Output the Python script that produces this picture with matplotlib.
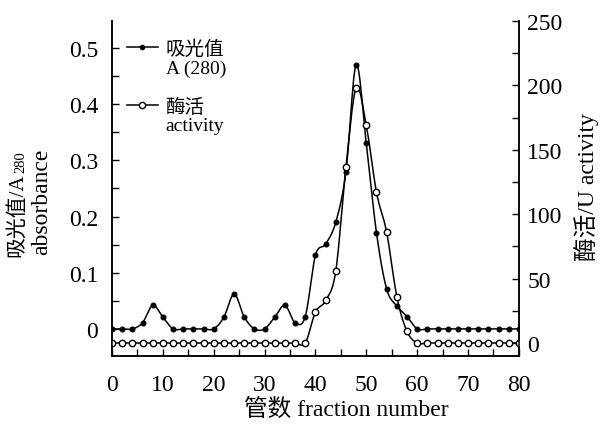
import matplotlib

matplotlib.use("Agg")
import matplotlib.pyplot as plt
import numpy as np
from matplotlib.lines import Line2D
from matplotlib.ticker import MultipleLocator, FuncFormatter

plt.rcParams["font.family"] = ["Liberation Serif", "Noto Sans CJK SC"]

# fraction numbers, every 2nd tube
fractions = np.arange(0, 81, 2)

# absorbance A(280), left axis
absorbance = [
    0.0, 0.0, 0.0, 0.011, 0.042, 0.021, 0.0, 0.0, 0.0, 0.0,
    0.0, 0.021, 0.062, 0.021, 0.0, 0.0, 0.021, 0.042, 0.011, 0.022,
    0.131, 0.151, 0.190, 0.280, 0.470, 0.330, 0.171, 0.071, 0.041, 0.022,
    0.0, 0.0, 0.0, 0.0, 0.0, 0.0, 0.0, 0.0, 0.0, 0.0, 0.0,
]

# enzyme activity (U), right axis
activity = [
    0, 0, 0, 0, 0, 0, 0, 0, 0, 0,
    0, 0, 0, 0, 0, 0, 0, 0, 0, 0,
    24, 33, 56, 137, 198, 169, 117, 86, 36, 9,
    0, 0, 0, 0, 0, 0, 0, 0, 0, 0, 0,
]


def smooth(x, y, n=12):
    """Catmull-Rom curve through the measured points (for the drawn line only)."""
    x = np.asarray(x, dtype=float)
    y = np.asarray(y, dtype=float)
    px = np.concatenate([[2 * x[0] - x[1]], x, [2 * x[-1] - x[-2]]])
    py = np.concatenate([[y[0]], y, [y[-1]]])
    xs, ys = [], []
    t = np.linspace(0, 1, n, endpoint=False)
    for i in range(1, len(px) - 2):
        for arr, out in ((px, xs), (py, ys)):
            p0, p1, p2, p3 = arr[i - 1], arr[i], arr[i + 1], arr[i + 2]
            out.append(0.5 * (2 * p1 + (-p0 + p2) * t
                              + (2 * p0 - 5 * p1 + 4 * p2 - p3) * t ** 2
                              + (-p0 + 3 * p1 - 3 * p2 + p3) * t ** 3))
    xs.append([x[-1]])
    ys.append([y[-1]])
    return np.concatenate(xs), np.concatenate(ys)


fig = plt.figure(figsize=(6.09, 4.31), dpi=100)
ax = fig.add_axes([0.184, 0.172, 0.668, 0.777])
ax2 = ax.twinx()

sx, sy = smooth(fractions, absorbance)
ax.plot(sx, sy, color="black", lw=1.1)
ax.plot(fractions, absorbance, "o", color="black", ms=3.3)

sx, sy = smooth(fractions, activity)
ax2.plot(sx, sy, color="black", lw=1.1)
ax2.plot(fractions, activity, "o", mfc="white", mec="black", mew=1.0, ms=4.6)

ax.set_xlim(0, 80)
ax.set_ylim(-0.048, 0.548)
ax2.set_ylim(-10, 250)

ax.xaxis.set_major_locator(MultipleLocator(10))
ax.xaxis.set_minor_locator(MultipleLocator(5))
ax.yaxis.set_major_locator(MultipleLocator(0.1))
ax.yaxis.set_minor_locator(MultipleLocator(0.05))
ax.yaxis.set_major_formatter(FuncFormatter(lambda v, p: "0" if abs(v) < 1e-9 else f"{v:.1f}"))
ax2.yaxis.set_major_locator(MultipleLocator(50))
ax2.yaxis.set_minor_locator(MultipleLocator(25))

for a in (ax, ax2):
    a.spines["top"].set_visible(False)
    for s in a.spines.values():
        s.set_linewidth(1.1)
    a.tick_params(which="both", direction="in", length=5, width=1.0, labelsize=17)
ax.tick_params(axis="x", pad=13)
ax.tick_params(axis="y", pad=10)
ax2.tick_params(axis="y", pad=6)

ax.set_xlabel("管数 fraction number", fontsize=17)
ax.xaxis.label.set_va("center")
ax.xaxis.set_label_coords(0.575, -0.158)

ax2.set_ylabel("酶活/U activity", fontsize=17)
ax2.yaxis.label.set_va("center")
ax2.yaxis.set_label_coords(1.167, 0.507)

# left axis title: two rotated lines, bottoms aligned, with subscript 280
t1 = fig.text(18 / 609, 1 - 257 / 431, "吸光值/A", rotation=90,
              ha="center", va="bottom", fontsize=15)
ax.annotate("280", xy=(1, 1), xycoords=t1, xytext=(0, 0), textcoords="offset points",
            rotation=90, ha="right", va="bottom", fontsize=10.5)
fig.text(42 / 609, 1 - 255 / 431, "absorbance", rotation=90,
         ha="center", va="bottom", fontsize=17)

abs_handles = [Line2D([], [], color="black", lw=1.1, marker="o", ms=3),
               Line2D([], [], color="none")]
act_handles = [Line2D([], [], color="black", lw=1.1, marker="o", mfc="white", ms=4.5),
               Line2D([], [], color="none")]
leg1 = ax.legend(abs_handles, ["吸光值", "A (280)"], loc="upper left",
                 bbox_to_anchor=(-0.007, 0.997), frameon=False, fontsize=14,
                 handlelength=1.6, handletextpad=0.4, labelspacing=0.05)
ax.add_artist(leg1)
ax.legend(act_handles, ["酶活", "activity"], loc="upper left",
          bbox_to_anchor=(-0.007, 0.824), frameon=False, fontsize=14,
          handlelength=1.6, handletextpad=0.4, labelspacing=0.05)

fig.savefig("out.png", dpi=100, facecolor="white")
